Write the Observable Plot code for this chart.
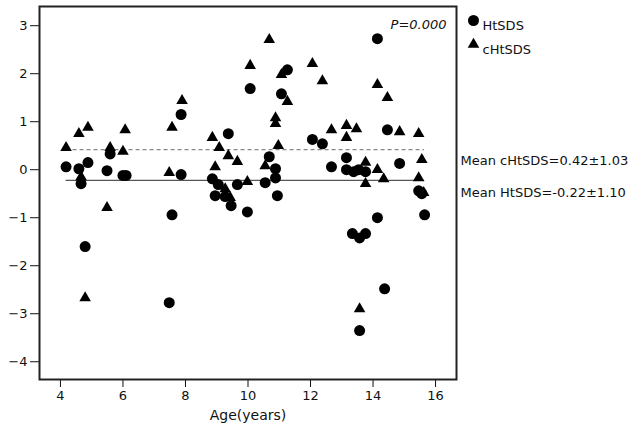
<!DOCTYPE html>
<html>
<head>
<meta charset="utf-8">
<script src="https://cdn.jsdelivr.net/npm/d3@7"></script>
<script src="https://cdn.jsdelivr.net/npm/@observablehq/plot@0.6"></script>
<style>
  html, body { margin: 0; padding: 0; background: #fff; }
</style>
</head>
<body>
<div id="chart"></div>
<script>
// HtSDS (circles)
const ageHt = [4.18, 4.59, 4.66, 4.79, 4.88, 5.49, 5.59, 6.00, 6.10, 7.48, 7.57, 7.86, 7.86,
  8.86, 9.05, 8.95, 9.27, 9.37, 9.46, 9.66, 9.98, 10.07, 10.55, 10.68, 10.88, 10.88, 10.94,
  11.07, 11.26, 12.06, 12.38, 12.67, 13.15, 13.15, 13.38, 13.54, 13.76, 13.34, 13.57, 13.76,
  13.57, 14.14, 14.14, 14.37, 14.46, 14.85, 15.46, 15.56, 15.65];
const htSDS = [0.06, 0.02, -0.29, -1.60, 0.15, -0.02, 0.33, -0.12, -0.12, -2.77, -0.94, 1.15, -0.10,
  -0.19, -0.31, -0.54, -0.56, 0.75, -0.75, -0.31, -0.88, 1.69, -0.27, 0.27, 0.02, -0.17, -0.54,
  1.58, 2.08, 0.63, 0.54, 0.06, 0.25, 0.00, -0.04, 0.00, -0.04, -1.33, -1.42, -1.33,
  -3.35, 2.73, -1.00, -2.48, 0.83, 0.13, -0.44, -0.50, -0.94];

// cHtSDS (triangles)
const ageC = [4.18, 4.59, 4.66, 4.88, 4.79, 5.49, 5.59, 6.00, 6.07, 7.48, 7.57, 7.89,
  8.86, 9.08, 8.95, 9.37, 9.66, 9.27, 9.43, 9.98, 10.07, 10.55, 10.68, 10.88, 10.88, 10.97,
  11.07, 11.26, 12.06, 12.38, 12.67, 13.15, 13.47, 13.15, 13.76, 13.76, 13.57, 14.14, 14.46,
  14.14, 14.34, 14.85, 15.46, 15.56, 15.46, 15.62];
const cHtSDS = [0.46, 0.75, -0.15, 0.88, -2.67, -0.79, 0.46, 0.38, 0.83, -0.06, 0.88, 1.44,
  0.67, 0.46, 0.06, 0.29, 0.17, -0.40, -0.58, -0.25, 2.17, 0.08, 2.71, 1.08, 0.96, 0.50,
  1.98, 1.42, 2.21, 1.85, 0.83, 0.92, 0.85, 0.67, 0.15, -0.29, -2.90, 1.77, 1.50,
  0.00, -0.19, 0.79, 0.75, 0.21, -0.17, -0.48];

const meanC = 0.42, sdC = 1.03;
const meanH = -0.22, sdH = 1.10;
const pText = "P=0.000";
const xTicks = [4, 6, 8, 10, 12, 14, 16];
const yTicks = [-4, -3, -2, -1, 0, 1, 2, 3];
const seriesNames = ["HtSDS", "cHtSDS"];

const ht = ageHt.map((a, i) => ({age: a, v: htSDS[i]}));
const ch = ageC.map((a, i) => ({age: a, v: cHtSDS[i]}));
const allAges = ageHt.concat(ageC);
const xMin = d3.min(allAges), xMax = d3.max(allAges);

const fmt = v => (v < 0 ? "-" : "") + Math.abs(v).toFixed(2);

const chart = Plot.plot({
  width: 640,
  height: 429,
  marginLeft: 39,
  marginRight: 184,
  marginTop: 6,
  marginBottom: 50,
  style: {fontSize: "13px", fontFamily: "'DejaVu Sans', sans-serif", color: "#111", background: "#fff"},
  x: {domain: [3.33, 16.67], ticks: xTicks, tickSize: 8, tickPadding: 3, label: null, tickFormat: d => String(d)},
  y: {domain: [-4.37, 3.4], ticks: yTicks, tickSize: 9, tickPadding: 3, label: null, tickFormat: d => (d < 0 ? "\u2212" : "") + Math.abs(d)},
  marks: [
    Plot.ruleY([{y: meanC, x1: xMin, x2: xMax}], {y: "y", x1: "x1", x2: "x2", stroke: "#888", strokeWidth: 1.2, strokeDasharray: "4,3"}),
    Plot.ruleY([{y: meanH, x1: xMin, x2: xMax}], {y: "y", x1: "x1", x2: "x2", stroke: "#555", strokeWidth: 1.3}),
    Plot.dot(ch, {x: "age", y: "v", symbol: "triangle", r: 4.3, fill: "#000", stroke: "none"}),
    Plot.dot(ht, {x: "age", y: "v", symbol: "circle", r: 5.5, fill: "#000", stroke: "none"}),
    Plot.frame({stroke: "#222", strokeWidth: 2}),
    // P value
    Plot.text([pText], {frameAnchor: "top-right", dx: -10, dy: 13, text: d => d, textAnchor: "end", fontStyle: "italic", fontSize: 13}),
    // legend
    Plot.dot([seriesNames[0]], {frameAnchor: "top-right", dx: 17, dy: 14, r: 5.5, fill: "#000", symbol: "circle"}),
    Plot.dot([seriesNames[1]], {frameAnchor: "top-right", dx: 17, dy: 38, r: 4.3, fill: "#000", symbol: "triangle"}),
    Plot.text([seriesNames[0]], {frameAnchor: "top-right", dx: 26, dy: 14, text: d => d, textAnchor: "start", fontSize: 13}),
    Plot.text([seriesNames[1]], {frameAnchor: "top-right", dx: 26, dy: 38, text: d => d, textAnchor: "start", fontSize: 13}),
    // mean annotations
    Plot.text([meanC], {y: d => d, frameAnchor: "right", dx: 4, dy: 11, textAnchor: "start", fontSize: 13,
      text: d => `Mean cHtSDS=${fmt(d)}\u00b1${sdC.toFixed(2)}`}),
    Plot.text([meanH], {y: d => d, frameAnchor: "right", dx: 4, dy: 13, textAnchor: "start", fontSize: 13,
      text: d => `Mean HtSDS=${fmt(d)}\u00b1${sdH.toFixed(2)}`}),
    // x axis title
    Plot.text(["Age(years)"], {frameAnchor: "bottom", dy: 40, text: d => d, fontSize: 14})
  ]
});
document.getElementById("chart").appendChild(chart);
</script>
</body>
</html>
